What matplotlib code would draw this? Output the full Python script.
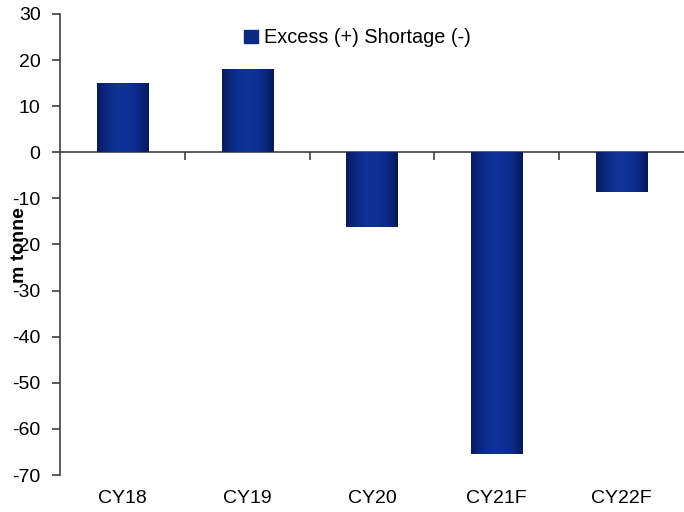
import matplotlib.pyplot as plt
import numpy as np
from matplotlib.colors import LinearSegmentedColormap
from matplotlib.patches import Rectangle

plt.rcParams['font.family'] = ['Liberation Sans', 'DejaVu Sans']
plt.rcParams['axes.unicode_minus'] = False

categories = ["CY18", "CY19", "CY20", "CY21F", "CY22F"]
balance = [15, 18, -16.2, -65.4, -8.7]
legend_label = "Excess (+) Shortage (-)"
ylabel = "m tonne"

# shading across each bar: dark edges, lighter middle
bar_cmap = LinearSegmentedColormap.from_list(
    "bar", ["#071a5c", "#0c2a85", "#0f3399", "#0e3196", "#0b2a88", "#061857"])

fig = plt.figure(figsize=(6.84, 5.12), dpi=100)
ax = fig.add_axes([60 / 684, 37 / 512, 624 / 684, 461 / 512])

x = np.arange(len(categories))
bars = ax.bar(x, balance, width=0.41, color="#0c2a85", linewidth=0, zorder=2)

grad = np.linspace(0, 1, 256).reshape(1, -1)
for b in bars:
    x0, y0 = b.get_x(), b.get_y()
    w, h = b.get_width(), b.get_height()
    im = ax.imshow(grad, cmap=bar_cmap, aspect="auto", zorder=3,
                   extent=(x0, x0 + w, min(y0, y0 + h), max(y0, y0 + h)))
    im.set_clip_path(b)

ax.set_xlim(-0.5, len(categories) - 0.5)
ax.set_ylim(-70, 30)
ax.set_yticks(np.arange(-70, 31, 10))

axis_color = "#404040"
for side in ["top", "right"]:
    ax.spines[side].set_visible(False)
ax.spines["bottom"].set_position(("data", 0))
ax.spines["bottom"].set_color(axis_color)
ax.spines["left"].set_color(axis_color)
ax.spines["left"].set_linewidth(1.2)
ax.spines["bottom"].set_linewidth(1.2)

ax.set_xticks(x[:-1] + 0.5)
ax.set_xticklabels([])
ax.tick_params(axis="x", direction="out", length=6, color=axis_color, width=1.2)
ax.tick_params(axis="y", direction="out", length=6, color=axis_color, width=1.2,
               labelsize=14, pad=8)

for xi, cat in zip(x, categories):
    ax.text(xi, -0.05, cat, transform=ax.get_xaxis_transform(),
            ha="center", va="center", fontsize=14)

fig.text(19 / 684, 1 - 245 / 512, ylabel, rotation=90, fontsize=14,
         fontweight="bold", ha="center", va="center")

handle = Rectangle((0, 0), 1, 1, color="#0c2a85")
ax.legend([handle], [legend_label], loc="center", bbox_to_anchor=(0.477, 0.948),
          frameon=False, fontsize=14.3, handlelength=0.7, handleheight=0.7,
          handletextpad=0.3)

fig.savefig("out.png", dpi=100)
